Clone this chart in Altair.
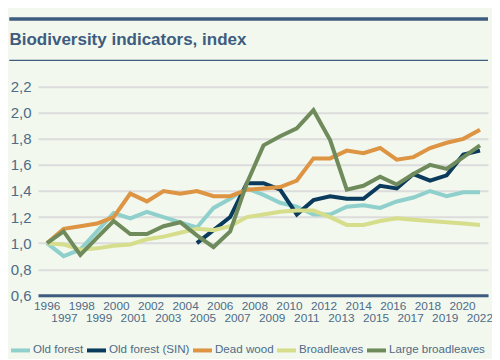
import altair as alt
import pandas as pd

years = [1996, 1997, 1998, 1999, 2000, 2001, 2002, 2003, 2004, 2005, 2006, 2007, 2008, 2009,
         2010, 2011, 2012, 2013, 2014, 2015, 2016, 2017, 2018, 2019, 2020, 2021, 2022]
axis_labels = ["1996", "1997", "1998", "1999", "2000", "2001", "2002", "2003", "2004", "2005",
               "2006", "2007", "2008", "2009", "2010", "2011", "2012", "2013", "2014", "2015",
               "2016", "2017", "2018", "2019", "2020", "2022"]

old_forest = [1.00, 0.90, 0.95, 1.09, 1.23, 1.19, 1.24, 1.20, 1.16, 1.12, 1.27, 1.34, 1.42, 1.37,
              1.31, 1.28, 1.22, 1.22, 1.28, 1.29, 1.27, 1.32, 1.35, 1.40, 1.36, 1.39, 1.39]
old_forest_sin = [None, None, None, None, None, None, None, None, None, 1.00, 1.10, 1.20, 1.46, 1.46,
                  1.41, 1.22, 1.33, 1.36, 1.34, 1.34, 1.44, 1.42, 1.53, 1.48, 1.52, 1.68, 1.71]
dead_wood = [1.00, 1.11, 1.13, 1.15, 1.20, 1.38, 1.32, 1.40, 1.38, 1.40, 1.36, 1.36, 1.41, 1.42,
             1.43, 1.48, 1.65, 1.65, 1.71, 1.69, 1.73, 1.64, 1.66, 1.73, 1.77, 1.80, 1.87]
broadleaves = [1.00, 0.99, 0.95, 0.96, 0.98, 0.99, 1.03, 1.05, 1.08, 1.11, 1.10, 1.13, 1.20, 1.22,
               1.24, 1.25, 1.25, 1.20, 1.14, 1.14, 1.17, 1.19, 1.18, 1.17, 1.16, 1.15, 1.14]
large_broadleaves = [1.00, 1.09, 0.91, 1.04, 1.17, 1.07, 1.07, 1.13, 1.16, 1.06, 0.97, 1.09, 1.46, 1.75,
                     1.82, 1.88, 2.02, 1.79, 1.41, 1.44, 1.51, 1.45, 1.53, 1.60, 1.57, 1.66, 1.75]

series_names = ["Old forest", "Old forest (SIN)", "Dead wood", "Broadleaves", "Large broadleaves"]
series_values = [old_forest, old_forest_sin, dead_wood, broadleaves, large_broadleaves]
series_colors = ["#8fd0cc", "#0b3b5c", "#dd9443", "#d6dd8b", "#6f8b5c"]

y_ticks = [0.6, 0.8, 1.0, 1.2, 1.4, 1.6, 1.8, 2.0, 2.2]
title_text = "Biodiversity indicators, index"

rows = []
for k, (name, vals) in enumerate(zip(series_names, series_values)):
    for yr, v in zip(years, vals):
        if v is not None:
            rows.append({"series": name, "year": yr, "value": v, "k": k})
df = pd.DataFrame(rows)

FONT = "Liberation Sans, Arial, sans-serif"
TXT = "#3e5c7e"
LBL = "#4e6b88"
W, H = 450, 208.6

lines = alt.Chart(df).mark_line(strokeWidth=4).encode(
    x=alt.X("year:Q", scale=alt.Scale(domain=[1995.46, 2022.48], nice=False, zero=False), axis=None),
    y=alt.Y("value:Q",
            scale=alt.Scale(domain=[0.6, 2.2], nice=False, zero=False),
            axis=alt.Axis(values=y_ticks, title=None, domain=False, ticks=False,
                          grid=True, gridColor="#dcdcdc", gridWidth=2,
                          labelExpr="replace(format(datum.value, '.1f'), '.', ',')",
                          labelFont=FONT, labelFontSize=15, labelColor=LBL, labelPadding=7)),
    color=alt.Color("series:N",
                    scale=alt.Scale(domain=series_names, range=series_colors),
                    legend=alt.Legend(orient="none", legendX=-29, legendY=252, direction="horizontal",
                                      columns=5, title=None, symbolType="stroke", symbolStrokeWidth=4,
                                      symbolSize=361, labelFont=FONT, labelFontSize=11.6,
                                      labelColor=LBL, labelOffset=1, columnPadding=-5)),
    order=alt.Order("k:Q"),
    detail="series:N",
)

label_df = pd.DataFrame({"lab": axis_labels})
label_axis = alt.Chart(label_df).mark_point(opacity=0).encode(
    x=alt.X("lab:O", sort=axis_labels, scale=alt.Scale(type="point", padding=0.5),
            axis=alt.Axis(orient="bottom", title=None, labelAngle=0, ticks=False,
                          domainColor=TXT, domainWidth=3, grid=False, labelOverlap=False,
                          labelExpr="(toNumber(datum.value) % 2 == 1 || datum.value == '2022') ? ['', datum.label] : datum.label",
                          labelFont=FONT, labelFontSize=11.8, labelLineHeight=12.5,
                          labelColor=LBL, labelPadding=5)),
)

title_layer = alt.Chart(pd.DataFrame({"t": [title_text]})).mark_text(
    align="left", baseline="alphabetic", font=FONT, fontSize=17, fontWeight="bold", color=TXT
).encode(text="t:N", x=alt.value(-28.5), y=alt.value(-41.5))

top_rule = alt.Chart(pd.DataFrame({"r": [1]})).mark_rule(color=TXT, strokeWidth=3.5).encode(
    x=alt.value(-28.7), x2=alt.value(450), y=alt.value(-67.7))
thin_rule = alt.Chart(pd.DataFrame({"r": [1]})).mark_rule(color=TXT, strokeWidth=1.3).encode(
    x=alt.value(-28.7), x2=alt.value(450), y=alt.value(-26.3))

chart = alt.layer(label_axis, lines, title_layer, top_rule, thin_rule).resolve_scale(
    x="independent"
).properties(
    width=W, height=H,
    autosize=alt.AutoSizeParams(type="none"),
    padding={"left": 30, "top": 78.7, "right": 4, "bottom": 64},
    background="#f2f8ee",
).configure_view(strokeWidth=0)

chart.save("out.html", embed_options={"renderer": "svg", "actions": False})
